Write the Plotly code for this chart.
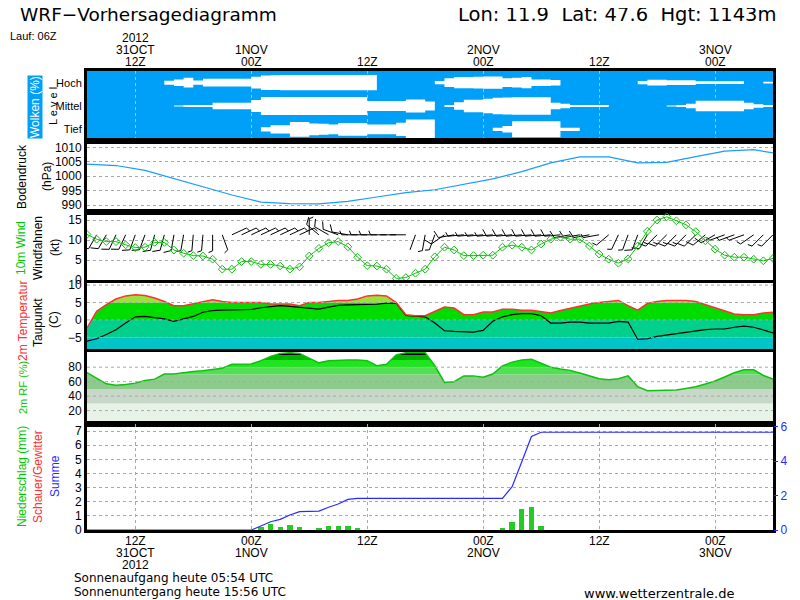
import math
import plotly.graph_objects as go

# WRF Vorhersagediagramm, Lauf 06Z -- x-Achse in Stunden ab 31.10.2012 00Z
HOURS = list(range(7, 79))
X_RANGE = [7, 78]
TICK_HOURS = [12, 24, 36, 48, 60, 72]
TOP_LABELS = [['2012', '31OCT', '12Z'], ['1NOV', '00Z'], ['12Z'], ['2NOV', '00Z'], ['12Z'], ['3NOV', '00Z']]
BOTTOM_LABELS = [['12Z', '31OCT', '2012'], ['00Z', '1NOV'], ['12Z'], ['00Z', '2NOV'], ['12Z'], ['00Z', '3NOV']]

# Bewoelkung (%) je Stockwerk, stuendlich h7..h78
CLOUD_HIGH = [0, 0, 0, 0, 0, 0, 0, 0, 18, 30, 45, 20,
              35, 35, 35, 35, 35, 53, 66, 68, 70, 70, 70, 70,
              70, 70, 70, 70, 70, 70, 0, 0, 0, 0, 0, 0,
              15, 40, 52, 52, 54, 56, 56, 40, 45, 52, 30, 30,
              25, 0, 0, 0, 0, 0, 0, 0, 0, 15, 26, 26,
              22, 22, 22, 12, 12, 12, 12, 12, 0, 0, 8, 8]
CLOUD_MID = [0, 0, 0, 0, 0, 0, 0, 0, 0, 5, 10, 10,
             10, 30, 30, 30, 30, 55, 82, 82, 82, 82, 82, 82,
             82, 82, 82, 82, 82, 45, 45, 45, 45, 60, 60, 40,
             0, 10, 35, 56, 56, 66, 76, 78, 79, 79, 79, 79,
             30, 20, 8, 8, 8, 8, 0, 0, 0, 0, 0, 0,
             5, 8, 20, 48, 48, 48, 48, 48, 30, 15, 10, 0]
CLOUD_LOW = [0, 0, 0, 0, 0, 0, 0, 0, 0, 0, 0, 0,
             0, 0, 0, 0, 0, 0, 20, 38, 38, 68, 68, 53,
             50, 45, 58, 58, 58, 45, 45, 45, 60, 90, 90, 90,
             0, 0, 0, 0, 0, 0, 15, 30, 73, 73, 73, 73,
             73, 15, 15, 0, 0, 0, 0, 0, 0, 0, 0, 0,
             0, 0, 0, 0, 0, 0, 0, 0, 0, 0, 0, 0]

# Bodendruck (hPa)
PRESSURE_HOURS = [7, 10, 13, 16, 19, 22, 25, 28, 31, 34, 37, 40, 43, 46, 49,
                  52, 55, 58, 61, 64, 67, 70, 73, 76, 78]
PRESSURE = [1004.2, 1003.7, 1002.0, 999.2, 996.3, 993.5, 991.0, 990.5, 990.4,
            991.3, 992.8, 994.3, 995.3, 997.3, 999.1, 1001.6, 1004.6, 1006.7,
            1006.7, 1004.6, 1004.8, 1006.8, 1008.7, 1009.2, 1008.1]

# 10m Wind (kt) und Richtung (Grad)
WIND_SPEED = [11.4, 10.2, 9.6, 9.6, 8.8, 8.1, 8.2, 9.4, 9.4, 7.5, 6.7, 6.1,
              6.0, 5.2, 2.7, 2.7, 4.6, 4.6, 3.9, 3.9, 3.5, 2.7, 3.3, 6.0,
              7.9, 9.3, 9.6, 8.3, 5.7, 3.6, 3.5, 2.7, 0.4, 0.6, 1.7, 2.7,
              5.8, 8.2, 7.5, 6.1, 6.1, 6.2, 6.2, 8.2, 8.7, 8.2, 7.5, 9.0,
              10.2, 10.7, 10.2, 10.2, 8.5, 6.5, 5.2, 4.2, 5.3, 8.5, 12.2, 15.0,
              15.8, 14.8, 13.8, 12.1, 9.8, 7.7, 6.2, 5.7, 5.7, 5.2, 4.8, 5.4]
WIND_DIR = [210, 210, 210, 205, 205, 200, 200, 195, 195, 190, 190, 185,
            185, 180, 160, 65, 65, 65, 65, 65, 65, 65, 65, 0,
            310, 300, 290, 280, 270, 270, 270, 270, 270, 270, 200, 190,
            200, 235, 260, 265, 265, 265, 265, 265, 265, 265, 265, 265,
            265, 265, 260, 260, 260, 260, 230, 205, 200, 200, 210, 225,
            225, 225, 225, 225, 230, 240, 250, 250, 250, 235, 225, 225]

# 2m Temperatur und Taupunkt (C)
TEMP = [-2.3, 2.5, 4.4, 6.0, 6.9, 7.2, 7.0, 6.3, 5.3, 4.1, 4.1, 4.7,
        5.3, 5.8, 5.3, 5.0, 5.0, 5.0, 5.0, 4.6, 4.6, 4.6, 4.1, 5.0,
        5.0, 5.3, 5.6, 5.6, 6.0, 6.9, 7.1, 6.9, 5.0, 1.5, 1.2, 1.2,
        2.5, 3.7, 3.4, 1.5, 1.5, 2.3, 2.3, 3.1, 3.1, 2.8, 2.8, 2.5,
        2.0, 2.7, 3.4, 3.9, 4.6, 5.0, 5.3, 5.6, 4.1, 2.8, 4.7, 5.3,
        5.6, 5.6, 5.6, 5.3, 4.4, 3.7, 2.8, 1.7, 1.5, 1.5, 2.0, 2.2]
DEWPOINT = [-6.1, -5.4, -4.2, -2.8, -0.9, 0.9, 1.0, 0.6, 0.3, -0.4, 0.3, 1.0,
            2.2, 2.7, 2.8, 2.8, 3.0, 3.0, 3.5, 3.9, 4.1, 3.9, 3.7, 3.4,
            3.1, 3.7, 4.2, 4.3, 4.3, 4.4, 4.5, 4.8, 4.8, 1.3, 1.1, 0.9,
            -0.9, -3.1, -3.3, -3.5, -3.5, -3.0, -0.4, 0.9, 1.5, 1.8, 1.8, 1.2,
            -0.9, -0.9, -0.6, -0.6, -0.9, -0.9, -0.9, -0.4, -0.6, -5.6, -5.4, -4.7,
            -4.3, -3.9, -3.7, -3.2, -2.8, -2.6, -2.6, -2.1, -1.8, -2.1, -2.9, -3.7]

# 2m relative Feuchte (%)
RH = [72.6, 64.8, 57.0, 55.2, 56.0, 58.0, 61.5, 63.5, 70.5, 70.5, 72.5, 74.0,
      75.0, 76.5, 78.5, 84.0, 84.0, 84.5, 89.0, 95.0, 99.0, 100.0, 99.0, 93.0,
      86.0, 89.0, 90.0, 90.0, 90.0, 89.0, 82.0, 84.0, 97.0, 100.0, 100.0, 100.0,
      82.0, 59.0, 60.0, 68.0, 68.0, 66.0, 70.5, 81.8, 87.0, 89.8, 91.0, 85.0,
      80.0, 77.5, 75.6, 72.0, 68.0, 64.0, 62.5, 64.0, 68.0, 53.0, 47.6, 47.6,
      48.5, 48.5, 50.7, 53.0, 56.7, 61.0, 66.5, 72.3, 76.4, 76.4, 68.6, 63.7]

# Niederschlag (mm/h) und Summe
PRECIP_HOURS = [25, 26, 27, 28, 29, 31, 32, 33, 34, 35, 50, 51, 52, 53, 54]
PRECIP = [0.19, 0.42, 0.19, 0.35, 0.19, 0.12, 0.28, 0.28, 0.28, 0.16,
          0.16, 0.59, 1.48, 1.65, 0.28]
SUM_HOURS = [7, 24, 25, 26, 27, 28, 29, 30, 31, 32, 33, 34, 35, 50, 51, 52, 53, 54, 78]
PRECIP_SUM = [0, 0, 0.23, 0.48, 0.62, 0.87, 1.07, 1.1, 1.1, 1.32, 1.51, 1.78,
              1.84, 1.84, 2.52, 3.97, 5.43, 5.68, 5.68]

# Farbstufen
TEMP_BANDS = [(-20, -5, '#00c4c8'), (-5, 0, '#00d08c'), (0, 5, '#00dc00'), (5, 20, '#9ce03c')]
RH_BANDS = [(0, 30, '#e8f3e8'), (30, 50, '#c8d8c8'), (50, 70, '#8ccb8c'),
            (70, 80, '#55dd55'), (80, 90, '#1ee61e'), (90, 110, '#00b400')]

# Seite hat 8px body-margin -> Figur 792x592, Koordinaten unten in Referenz-Pixeln
OFF = 8
W, H = 800 - OFF, 600 - OFF
ML, MR, MT, MB = 87 - OFF, 27, 71 - OFF, 70
FONT = 'Liberation Sans Narrow, Liberation Sans'
WIDE = 'DejaVu Sans'
GREEN, RED, BLUE = '#00c800', '#ff3030', '#2a2aff'
CLOUD_BLUE = '#00a0f8'
GRID = '#a8a8a8'


def xp(px):
    return (px - OFF - ML) / (W - ML - MR)


def yp(py):
    return (H - MB - (py - OFF)) / (H - MT - MB)


# Panels: y-Achse -> (oben px, unten px, range) in Referenz-Pixeln
PANELS = {
    'y': (71, 141, [0, 3]),
    'y2': (141, 212, [987.6, 1012.2]),
    'y3': (212, 283, [-0.75, 17]),
    'y4': (283, 352, [-9.2, 10.6]),
    'y5': (352, 424, [1.5, 101]),
    'y6': (424, 530, [0, 7.5]),
}

fig = go.Figure()


def sc(**kw):
    kw.setdefault('showlegend', False)
    kw.setdefault('hoverinfo', 'skip')
    fig.add_trace(go.Scatter(**kw))


# --- Wolken ---
for center, cover in ((2.5, CLOUD_HIGH), (1.5, CLOUD_MID), (0.5, CLOUD_LOW)):
    half = [c / 100 * 0.47 for c in cover]
    sc(x=HOURS, y=[center - h for h in half], mode='lines', line=dict(width=0, shape='hv'),
       xaxis='x', yaxis='y')
    sc(x=HOURS, y=[center + h for h in half], mode='lines', line=dict(width=0, shape='hv'),
       fill='tonexty', fillcolor='white', xaxis='x', yaxis='y')

# --- Bodendruck ---
sc(x=PRESSURE_HOURS, y=PRESSURE, mode='lines', line=dict(color='#1a9cff', width=1.2),
   xaxis='x2', yaxis='y2')

# --- Wind: Fahnen + Geschwindigkeit ---
px_h = (W - ML - MR) / (X_RANGE[1] - X_RANGE[0])
px_kt = (283 - 212) / (PANELS['y3'][2][1] - PANELS['y3'][2][0])
bx, by = [], []
base = 11.3
for h, s, d in zip(HOURS, WIND_SPEED, WIND_DIR):
    ux, uy = math.sin(math.radians(d)), math.cos(math.radians(d))
    bx += [h, h + 16 * ux / px_h, None]
    by += [base, base + 16 * uy / px_kt, None]
    pxv, pyv = uy, -ux
    full, halfb = divmod(int(round(s / 5)), 2)
    pos = 16
    for k in range(full + halfb):
        ln = 8 if k < full else 4.5
        sx, sy = pos * ux, pos * uy
        fx = sx + ln * (0.9 * pxv + 0.4 * ux)
        fy = sy + ln * (0.9 * pyv + 0.4 * uy)
        bx += [h + sx / px_h, h + fx / px_h, None]
        by += [base + sy / px_kt, base + fy / px_kt, None]
        pos -= 3
sc(x=bx, y=by, mode='lines', line=dict(color='black', width=1), xaxis='x3', yaxis='y3')
sc(x=HOURS, y=WIND_SPEED, mode='lines+markers', line=dict(color='#10c010', width=1),
   marker=dict(symbol='diamond-open', size=6, color='#10c010', line=dict(width=1)),
   xaxis='x3', yaxis='y3')

# --- Temperatur ---
t_top = PANELS['y4'][2][1]
sc(x=HOURS, y=TEMP, mode='lines', line=dict(width=0), xaxis='x4', yaxis='y4')
sc(x=HOURS, y=[t_top] * len(HOURS), mode='lines', line=dict(width=0), fill='tonexty',
   fillcolor='white', xaxis='x4', yaxis='y4')
sc(x=HOURS, y=DEWPOINT, mode='lines', line=dict(color='black', width=1.2), xaxis='x4', yaxis='y4')
sc(x=HOURS, y=TEMP, mode='lines', line=dict(color=RED, width=1.5), xaxis='x4', yaxis='y4')

# --- rel. Feuchte ---
r_top = PANELS['y5'][2][1]
sc(x=HOURS, y=RH, mode='lines', line=dict(width=0), xaxis='x5', yaxis='y5')
sc(x=HOURS, y=[r_top] * len(HOURS), mode='lines', line=dict(width=0), fill='tonexty',
   fillcolor='white', xaxis='x5', yaxis='y5')
sc(x=HOURS, y=RH, mode='lines', line=dict(color='#10c010', width=1.5), xaxis='x5', yaxis='y5')

# --- Niederschlag ---
fig.add_trace(go.Bar(x=PRECIP_HOURS, y=PRECIP, width=0.55, marker=dict(color='#22cc22', line=dict(width=0)),
                     showlegend=False, hoverinfo='skip', xaxis='x6', yaxis='y6'))
sc(x=SUM_HOURS, y=PRECIP_SUM, mode='lines', line=dict(color=BLUE, width=1.2), xaxis='x6', yaxis='y7')

# --- Hintergruende / Gitter ---
shapes = [dict(type='rect', xref='x domain', yref='y domain', x0=0, x1=1, y0=0, y1=1,
               fillcolor=CLOUD_BLUE, line=dict(width=0), layer='below')]
for lo, hi, col in TEMP_BANDS:
    shapes.append(dict(type='rect', xref='x4 domain', yref='y4', x0=0, x1=1, y0=lo, y1=hi,
                       fillcolor=col, line=dict(width=0), layer='below'))
for lo, hi, col in RH_BANDS:
    shapes.append(dict(type='rect', xref='x5 domain', yref='y5', x0=0, x1=1, y0=lo, y1=hi,
                       fillcolor=col, line=dict(width=0), layer='below'))
for v in [10, 5, 0, -5]:
    shapes.append(dict(type='line', xref='x4 domain', yref='y4', x0=0, x1=1, y0=v, y1=v,
                       line=dict(color=GRID, width=1, dash='dot'), layer='above'))
for v in [20, 40, 60, 80]:
    shapes.append(dict(type='line', xref='x5 domain', yref='y5', x0=0, x1=1, y0=v, y1=v,
                       line=dict(color=GRID, width=1, dash='dot'), layer='above'))

tickfont = dict(family=FONT, size=12, color='black')
border = dict(showline=True, mirror=True, linecolor='black', linewidth=3, zeroline=False, ticks='')

layout = dict(width=W, height=H, margin=dict(l=ML, r=MR, t=MT, b=MB, pad=0),
              paper_bgcolor='white', plot_bgcolor='white', showlegend=False,
              font=dict(family=FONT, size=12, color='black'), shapes=shapes, bargap=0)

for i, (yname, (top, bot, rng)) in enumerate(PANELS.items(), start=1):
    xname = 'xaxis' if i == 1 else f'xaxis{i}'
    layout[xname] = dict(domain=[0, 1], range=X_RANGE, anchor=yname, tickvals=TICK_HOURS,
                         showticklabels=False, showgrid=False, **border)
    if i > 1:
        layout[xname]['matches'] = 'x'
    ykey = 'yaxis' if i == 1 else f'yaxis{i}'
    layout[ykey] = dict(domain=[yp(bot), yp(top)], range=rng, anchor='x' if i == 1 else f'x{i}',
                        tickfont=tickfont, showgrid=True, gridcolor=GRID, griddash='dot',
                        gridwidth=1, **border)

layout['xaxis'].update(showgrid=True, gridcolor='#b8b8b8', griddash='dot')
layout['xaxis6'].update(showgrid=True, gridcolor=GRID, griddash='dot')
layout['yaxis'].update(tickvals=[0.5, 1.5, 2.5], ticktext=['Tief', 'Mittel', 'Hoch'], showgrid=False,
                       tickfont=dict(family=FONT, size=11, color='black'))
layout['yaxis2'].update(tickvals=[990, 995, 1000, 1005, 1010])
layout['yaxis3'].update(tickvals=[0, 5, 10, 15])
layout['yaxis4'].update(tickvals=[-5, 0, 5, 10], ticktext=['−5', '0', '5', '10'], showgrid=False)
layout['yaxis5'].update(tickvals=[20, 40, 60, 80], showgrid=False)
layout['yaxis6'].update(tickvals=list(range(8)))
layout['yaxis7'] = dict(overlaying='y6', side='right', anchor='x6', range=[0, 6.16],
                        tickvals=[0, 2, 4, 6], showgrid=False, zeroline=False, showline=False,
                        ticks='outside', ticklen=4, tickcolor=BLUE,
                        tickfont=dict(family=FONT, size=12, color=BLUE))


def ann(text, x, y, size=12, color='black', angle=0, xanchor='center', family=FONT, **kw):
    return dict(text=text, x=xp(x), y=yp(y), xref='paper', yref='paper', showarrow=False,
                textangle=angle, xanchor=xanchor, yanchor='middle',
                font=dict(family=family, size=size, color=color), **kw)


annotations = [
    ann('WRF−Vorhersagediagramm', 18, 14, size=18.5, xanchor='left', family=WIDE),
    ann('Lon: 11.9  Lat: 47.6  Hgt: 1143m', 779, 14, size=19.5, xanchor='right', family=WIDE),
    ann('Lauf: 06Z', 8, 36, size=11, xanchor='left'),
    ann('Wolken (%)', 35, 107, size=12, color='white', angle=-90, bgcolor=CLOUD_BLUE, borderpad=0),
    ann('L e v e l', 53, 106, size=11, angle=-90),
    ann('Bodendruck', 22, 177, angle=-90),
    ann('(hPa)', 47, 177, angle=-90),
    ann('10m Wind', 21, 248, color=GREEN, angle=-90),
    ann('Windfahnen', 38, 248, angle=-90),
    ann('(kt)', 55, 248, angle=-90),
    ann('2m Temperatur', 23, 321, color=RED, angle=-90),
    ann('Taupunkt', 38, 323, angle=-90),
    ann('(C)', 54, 320, angle=-90),
    ann('2m RF (%)', 23, 388, size=11, color=GREEN, angle=-90),
    ann('Niederschlag (mm)', 22, 477, color=GREEN, angle=-90),
    ann('Schauer/Gewitter', 38, 477, color=RED, angle=-90),
    ann('Summe', 55, 476, color=BLUE, angle=-90),
    ann('Sonnenaufgang heute 05:54 UTC', 72, 578, size=12, xanchor='left', family=WIDE),
    ann('Sonnenuntergang heute 15:56 UTC', 72, 592, size=12, xanchor='left', family=WIDE),
    ann('www.wetterzentrale.de', 582, 593, size=13, xanchor='left', family=WIDE),
]

# Zeitbeschriftung oben (ueber Wolken) und unten (unter Niederschlag), zeilenweise
for h, lines in zip(TICK_HOURS, TOP_LABELS):
    for k, txt in enumerate(reversed(lines)):
        annotations.append(dict(text=txt, x=h, xref='x', y=yp(62 - 12 * k), yref='paper',
                                showarrow=False, xanchor='center', yanchor='middle',
                                font=dict(family=FONT, size=12, color='black')))
for h, lines in zip(TICK_HOURS, BOTTOM_LABELS):
    for k, txt in enumerate(lines):
        annotations.append(dict(text=txt, x=h, xref='x6', y=yp(541 + 12 * k), yref='paper',
                                showarrow=False, xanchor='center', yanchor='middle',
                                font=dict(family=FONT, size=12, color='black')))
layout['annotations'] = annotations

fig.update_layout(**layout)
fig.write_html("out.html")
